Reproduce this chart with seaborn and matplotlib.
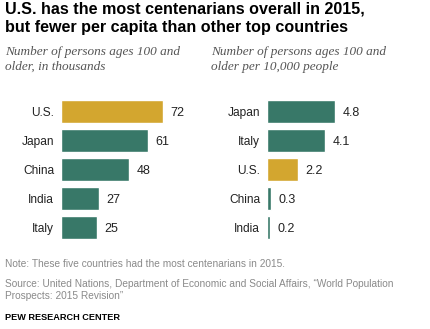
import matplotlib
matplotlib.use("Agg")
import matplotlib.pyplot as plt
import seaborn as sns
import pandas as pd

# Centenarians by country, 2015
total_countries = ["U.S.", "Japan", "China", "India", "Italy"]
total_thousands = [72, 61, 48, 27, 25]

percap_countries = ["Japan", "Italy", "U.S.", "China", "India"]
percap_per10k = [4.8, 4.1, 2.2, 0.3, 0.2]

GOLD = "#D3A62F"
GREEN = "#387868"
palette = {c: (GOLD if c == "U.S." else GREEN) for c in total_countries}

sns.set_theme(style="white")
plt.rcParams["font.family"] = ["Liberation Sans", "DejaVu Sans"]

W, H = 430, 329
fig = plt.figure(figsize=(W / 100, H / 100), dpi=100)


def px_axes(x0, y_top, width, height):
    return fig.add_axes([x0 / W, 1 - (y_top + height) / H, width / W, height / H])


def draw_panel(ax, countries, values, xmax, fmt):
    df = pd.DataFrame({"country": countries, "value": values})
    sns.barplot(data=df, x="value", y="country", hue="country", palette=palette,
                order=countries, width=23 / 29, legend=False, ax=ax,
                saturation=1)
    ax.set_xlim(0, xmax)
    ax.set_ylim(4.5, -0.5)
    ax.set_xlabel("")
    ax.set_ylabel("")
    ax.set_xticks([])
    sns.despine(ax=ax, left=True, bottom=True)
    ax.tick_params(axis="y", length=0, pad=5, labelsize=8.6, labelcolor="#222222")
    for i, v in enumerate(values):
        ax.text(v + xmax * 0.052, i, fmt(v), va="center_baseline", ha="left",
                fontsize=9, color="#222222")


ax1 = px_axes(61, 97, 142, 145)
draw_panel(ax1, total_countries, total_thousands, 100, lambda v: f"{v:d}")

ax2 = px_axes(267, 97, 142, 145)
draw_panel(ax2, percap_countries, percap_per10k, 10, lambda v: f"{v:.1f}")

# Headline
fig.text(5 / W, 1 - 1 / H,
         "U.S. has the most centenarians overall in 2015,\nbut fewer per capita than other top countries",
         ha="left", va="top", fontsize=11.6, fontweight="bold", color="#000000",
         linespacing=1.3)

# Panel subtitles
sub_kw = dict(ha="left", va="top", fontsize=9.5, style="italic", color="#555555",
              family=["Liberation Serif", "DejaVu Serif"], linespacing=1.3)
fig.text(5 / W, 1 - 46 / H, "Number of persons ages 100 and\nolder, in thousands", **sub_kw)
fig.text(211 / W, 1 - 46 / H, "Number of persons ages 100 and\nolder per 10,000 people", **sub_kw)

# Footer
foot_kw = dict(ha="left", va="top", fontsize=7.3, color="#8a8a8a")
fig.text(5 / W, 1 - 259 / H, "Note: These five countries had the most centenarians in 2015.", **foot_kw)
fig.text(5 / W, 1 - 279 / H,
         "Source: United Nations, Department of Economic and Social Affairs, \u201cWorld Population\nProspects: 2015 Revision\u201d",
         linespacing=1.25, **foot_kw)
fig.text(5 / W, 1 - 313 / H, "PEW RESEARCH CENTER", ha="left", va="top",
         fontsize=6.6, fontweight="bold", color="#000000")

fig.savefig("out.png", dpi=100)
